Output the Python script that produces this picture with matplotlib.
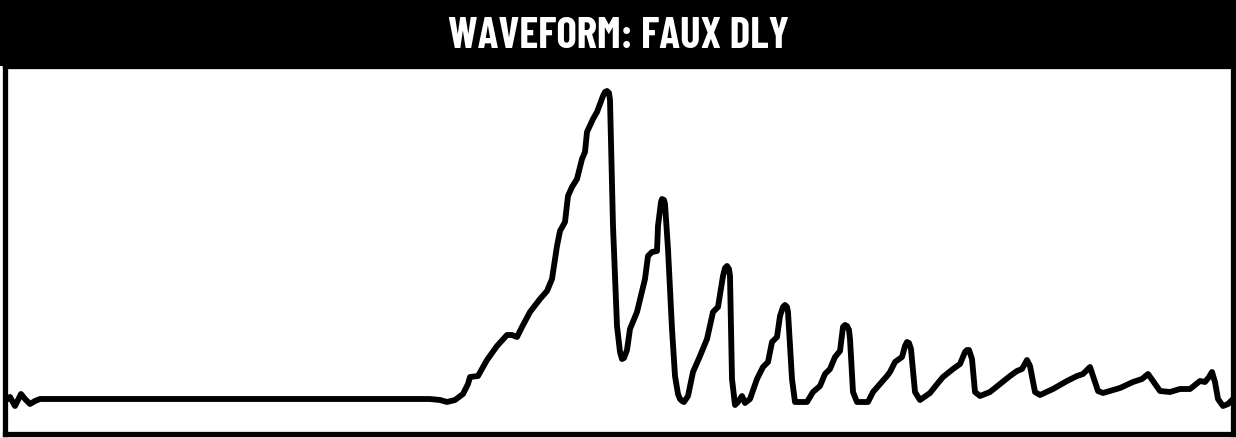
import matplotlib
matplotlib.use("Agg")
import matplotlib.pyplot as plt
from matplotlib.patches import Rectangle

# waveform samples (sample position, level above the rest line)
sample_x = [5, 10, 15, 21, 25, 30, 35, 40, 430, 440, 447, 455, 463, 468, 470, 478,
            487, 497, 507, 512, 517, 522, 530, 540, 547, 552, 557, 560, 565, 568,
            572, 577, 582, 585, 587, 593, 597, 603, 605, 607, 609, 610, 613, 617,
            620, 622, 624, 627, 630, 637, 645, 648, 652, 657, 658, 661, 662, 664,
            665, 668, 672, 675, 678, 680, 682, 684, 688, 693, 700, 707, 713, 718,
            723, 725, 727, 729, 730, 732, 735, 738, 742, 745, 750, 757, 763, 768,
            772, 777, 780, 783, 785, 787, 788, 792, 795, 807, 813, 820, 825, 830,
            835, 840, 843, 845, 847, 849, 850, 853, 857, 868, 873, 880, 887, 890,
            895, 902, 905, 907, 909, 911, 915, 920, 930, 938, 943, 953, 960, 965,
            967, 969, 972, 975, 980, 990, 1000, 1010, 1017, 1022, 1027, 1030, 1035,
            1040, 1053, 1067, 1077, 1083, 1090, 1093, 1098, 1103, 1120, 1133, 1142,
            1148, 1153, 1160, 1170, 1180, 1190, 1200, 1205, 1209, 1212, 1215, 1218,
            1223, 1228, 1233]
level = [-2, 2, -7, 5, 0, -5, -2, 0, 0, -1, -3, -1, 5, 15, 22, 23,
         39, 53, 64, 64, 62, 72, 87, 100, 108, 120, 153, 168, 177, 203,
         212, 220, 240, 247, 267, 280, 287, 303, 307, 308, 306, 299, 173, 73,
         47, 40, 41, 49, 70, 87, 120, 143, 147, 148, 173, 197, 200, 199,
         195, 150, 70, 23, 5, 0, -2, -3, 3, 27, 43, 60, 87, 92,
         123, 131, 133, 130, 123, 20, -6, -3, 3, -4, 0, 20, 32, 37,
         57, 62, 83, 92, 94, 92, 87, 20, -3, -3, 7, 13, 25, 30,
         42, 48, 72, 74, 73, 69, 60, 7, -3, -3, 7, 15, 23, 27,
         37, 42, 53, 57, 56, 50, 7, -1, 6, 16, 22, 30, 35, 47,
         49, 49, 40, 7, 3, 7, 15, 23, 28, 30, 39, 33, 7,
         4, 10, 18, 23, 25, 32, 23, 8, 6, 11, 17, 20,
         25, 18, 8, 7, 10, 10, 18, 17, 22, 27, 17, 0,
         -7, -5, 0]

title = "WAVEFORM: FAUX DLY"

W, H = 1236, 439
fig = plt.figure(figsize=(W / 100, H / 100), dpi=100)
fig.patch.set_facecolor("white")

header_px = 67
fig.patches.append(Rectangle((0, 1 - header_px / H), 1, header_px / H,
                             transform=fig.transFigure, facecolor="black",
                             edgecolor="none", zorder=0))
fig.text(0.5, 1 - 37 / H, title, color="white", ha="center", va="center",
         fontsize=31, fontweight="bold",
         family=["Barlow Condensed", "DejaVu Sans"])

# box edges in pixels; the rest line sits at y = 400 px
left, right, bottom, rest = 4.5, 1233, 434.5, 400
ax = fig.add_axes([left / W, (H - bottom) / H, (right - left) / W, (bottom - header_px) / H])
ax.plot(sample_x, level, color="black", lw=4.2, solid_joinstyle="round",
        solid_capstyle="round")
ax.set_xlim(left, right)
ax.set_ylim(rest - bottom, rest - header_px)
ax.set_xticks([])
ax.set_yticks([])
for s in ax.spines.values():
    s.set_linewidth(3.8)
    s.set_color("black")

fig.savefig("out.png", dpi=100)
